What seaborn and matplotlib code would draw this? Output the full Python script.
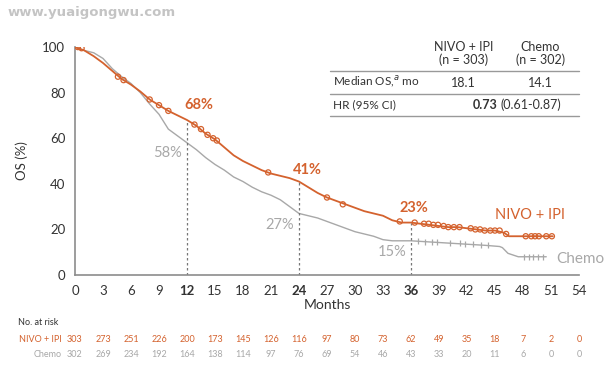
import matplotlib
matplotlib.use("Agg")
import matplotlib.pyplot as plt
import numpy as np
import pandas as pd
import seaborn as sns

# ----------------------- Data -----------------------
nivo_months = [0, 1, 2, 3, 4, 5, 6, 7, 8, 9, 10, 11, 12, 13, 14, 15, 16, 17, 18, 19,
               20, 21, 22, 23, 24, 25, 26, 27, 28, 29, 30, 31, 32, 33, 34, 35, 36, 37,
               38, 39, 40, 41, 42, 43, 44, 45, 46, 46.5, 48, 50, 51.2]
nivo_os = [100, 98.5, 96, 93, 89.5, 86, 83.5, 80.5, 77, 74.5, 72, 70, 68, 65.5, 62, 59.5,
           56, 52.5, 50, 48, 46, 44.5, 43.5, 42.5, 41, 38.5, 36, 34, 32.5, 31, 29.5, 28,
           27, 26, 24, 23, 23, 22.5, 22, 21.5, 21, 21, 20.5, 20, 19.5, 19.5, 18.5, 17,
           17, 17, 17]

chemo_months = [0, 1, 2, 3, 4, 5, 6, 7, 8, 9, 10, 11, 12, 13, 14, 15, 16, 17, 18, 19,
                20, 21, 22, 23, 24, 25, 26, 27, 28, 29, 30, 31, 32, 33, 34, 36, 38, 40,
                42, 44, 45.5, 45.8, 46.4, 47.5, 50.5]
chemo_os = [100, 98.5, 97.5, 95, 90.5, 87, 84, 80, 75, 70.5, 64, 61, 58, 55, 51.5, 48.5,
            46, 43, 41, 38.5, 36.5, 35, 33, 30, 27, 26, 25, 23.5, 22, 20.5, 19, 18, 17,
            15.5, 15, 15, 14.5, 14, 13.5, 13, 12.5, 12, 9.5, 8, 8]

nivo_cens_months = [0.3, 0.7, 4.6, 5.2, 8, 9, 10, 12.8, 13.5, 14.2, 14.8, 15.2, 20.7, 27,
                    28.7, 34.8, 36.4, 37.4, 37.9, 38.4, 38.9, 39.5, 40, 40.6, 41.2, 42.4,
                    42.9, 43.4, 43.9, 44.5, 45, 45.5, 46.2, 48.3, 48.9, 49.3, 49.7, 50.5, 51.1]
nivo_cens_os = [100, 99.5, 87, 85.5, 77, 74.5, 72, 66, 64, 61.5, 60, 59, 45, 34,
                31, 23.5, 23, 22.5, 22.5, 22, 22, 21.5, 21, 21, 21, 20.5,
                20, 20, 19.5, 19.5, 19.5, 19.5, 18, 17, 17, 17, 17, 17, 17]

chemo_cens_months = [36.8, 37.5, 38.3, 38.8, 40.2, 41.3, 41.8, 42.6, 43.5, 44.3,
                     48.1, 48.6, 49.1, 49.6, 50.1]
chemo_cens_os = [15, 14.5, 14.5, 14.5, 14, 14, 13.5, 13.5, 13, 13,
                 8, 8, 8, 8, 8]

landmark_months = [12, 24, 36]
nivo_landmark = [68, 41, 23]
chemo_landmark = [58, 27, 15]

risk_months = list(range(0, 55, 3))
nivo_at_risk = [303, 273, 251, 226, 200, 173, 145, 126, 116, 97, 80, 73, 62, 49, 35, 18, 7, 2, 0]
chemo_at_risk = [302, 269, 234, 192, 164, 138, 114, 97, 76, 69, 54, 46, 43, 33, 20, 11, 6, 0, 0]

ORANGE = "#d4622e"
GRAY = "#a8a8a8"
AXIS_GRAY = "#8c8c8c"

# ----------------------- Plot -----------------------
sns.set_style("white")
plt.rcParams["font.family"] = ["Lato", "DejaVu Sans"]

fig = plt.figure(figsize=(6.16, 3.78), dpi=100)
ax = fig.add_axes([0.1218, 0.2725, 0.818, 0.603])

nivo_df = pd.DataFrame({"month": nivo_months, "os": nivo_os})
chemo_df = pd.DataFrame({"month": chemo_months, "os": chemo_os})

sns.lineplot(data=chemo_df, x="month", y="os", color=GRAY, lw=1.0, ax=ax,
             estimator=None, sort=False)
sns.lineplot(data=nivo_df, x="month", y="os", color=ORANGE, lw=1.3, ax=ax,
             estimator=None, sort=False)

sns.scatterplot(x=chemo_cens_months, y=chemo_cens_os, marker="|", s=14, color=GRAY,
                linewidth=0.9, ax=ax, zorder=4)
sns.scatterplot(x=nivo_cens_months, y=nivo_cens_os, marker="o", s=14, facecolor="none",
                edgecolor=ORANGE, linewidth=0.9, ax=ax, zorder=5)

# landmark dashed lines and labels
for m, v in zip(landmark_months, nivo_landmark):
    ax.plot([m, m], [0, v], ls=(0, (2, 2)), color="#777777", lw=0.9, zorder=2)

nivo_lbl_pos = [(13.3, 74.5), (24.9, 46), (36.3, 29.5)]
chemo_lbl_pos = [(11.5, 53.5), (23.5, 22), (35.5, 10)]
for (x, y), v in zip(nivo_lbl_pos, nivo_landmark):
    ax.text(x, y, f"{v}%", color=ORANGE, fontsize=10.5, fontweight="bold",
            ha="center", va="center")
for (x, y), v in zip(chemo_lbl_pos, chemo_landmark):
    ax.text(x, y, f"{v}%", color=GRAY, fontsize=10.5, ha="right", va="center")

ax.text(48.8, 26.5, "NIVO + IPI", color=ORANGE, fontsize=10.5, ha="center", va="center")
ax.text(51.6, 7, "Chemo", color=GRAY, fontsize=11, ha="left", va="center")

# axes styling
ax.set_xlim(0, 54)
ax.set_ylim(0, 100)
ax.set_xticks(risk_months)
ax.set_yticks(range(0, 101, 20))
ax.tick_params(axis="both", direction="out", length=4, width=0.9, color=AXIS_GRAY,
               labelsize=9.5, labelcolor="#333333", pad=3)
for lab in ax.get_xticklabels():
    if lab.get_text() in ("12", "24", "36"):
        lab.set_fontweight("bold")
sns.despine(ax=ax)
for s in ("left", "bottom"):
    ax.spines[s].set_color(AXIS_GRAY)
    ax.spines[s].set_linewidth(1.2)
ax.set_xlabel("Months", fontsize=10, color="#333333", labelpad=2)
ax.set_ylabel("OS (%)", fontsize=9.5, color="#333333", labelpad=10)

# ----------------------- Number at risk -----------------------
fig.text(0.029, 0.148, "No. at risk", fontsize=6.5, color="#333333", ha="left", va="center")
fig.text(0.101, 0.103, "NIVO + IPI", fontsize=6.5, color=ORANGE, ha="right", va="center")
fig.text(0.101, 0.061, "Chemo", fontsize=6.5, color=GRAY, ha="right", va="center")
tr = matplotlib.transforms.blended_transform_factory(ax.transData, fig.transFigure)
for m, a, b in zip(risk_months, nivo_at_risk, chemo_at_risk):
    ax.text(m, 0.103, str(a), transform=tr, fontsize=6.5, color=ORANGE, ha="center", va="center")
    ax.text(m, 0.061, str(b), transform=tr, fontsize=6.5, color=GRAY, ha="center", va="center")

# ----------------------- Summary table -----------------------
col1, col2 = 0.752, 0.877
fig.text(col1, 0.858, "NIVO + IPI\n(n = 303)", fontsize=9, color="#333333",
         ha="center", va="center", linespacing=1.05)
fig.text(col2, 0.858, "Chemo\n(n = 302)", fontsize=9, color="#333333",
         ha="center", va="center", linespacing=1.05)
for y in (0.812, 0.751, 0.693):
    fig.add_artist(plt.Line2D([0.536, 0.94], [y, y], transform=fig.transFigure,
                              color="#999999", lw=1.0))
fig.text(0.540, 0.781, "Median OS,$^{a}$ mo", fontsize=8.5, color="#333333", va="center")
fig.text(col1, 0.781, "18.1", fontsize=9, color="#333333", ha="center", va="center")
fig.text(col2, 0.781, "14.1", fontsize=9, color="#333333", ha="center", va="center")
fig.text(0.540, 0.722, "HR (95% CI)", fontsize=8.5, color="#333333", va="center")
fig.text(0.808, 0.722, "0.73", fontsize=9, color="#333333", fontweight="bold",
         ha="right", va="center")
fig.text(0.812, 0.722, "(0.61-0.87)", fontsize=9, color="#333333", ha="left", va="center")

# watermark
fig.text(0.012, 0.968, "www.yuaigongwu.com", fontsize=9.5, fontweight="bold",
         color="#c4c4c4", ha="left", va="center", family="DejaVu Sans")

fig.savefig("out.png", dpi=100)
